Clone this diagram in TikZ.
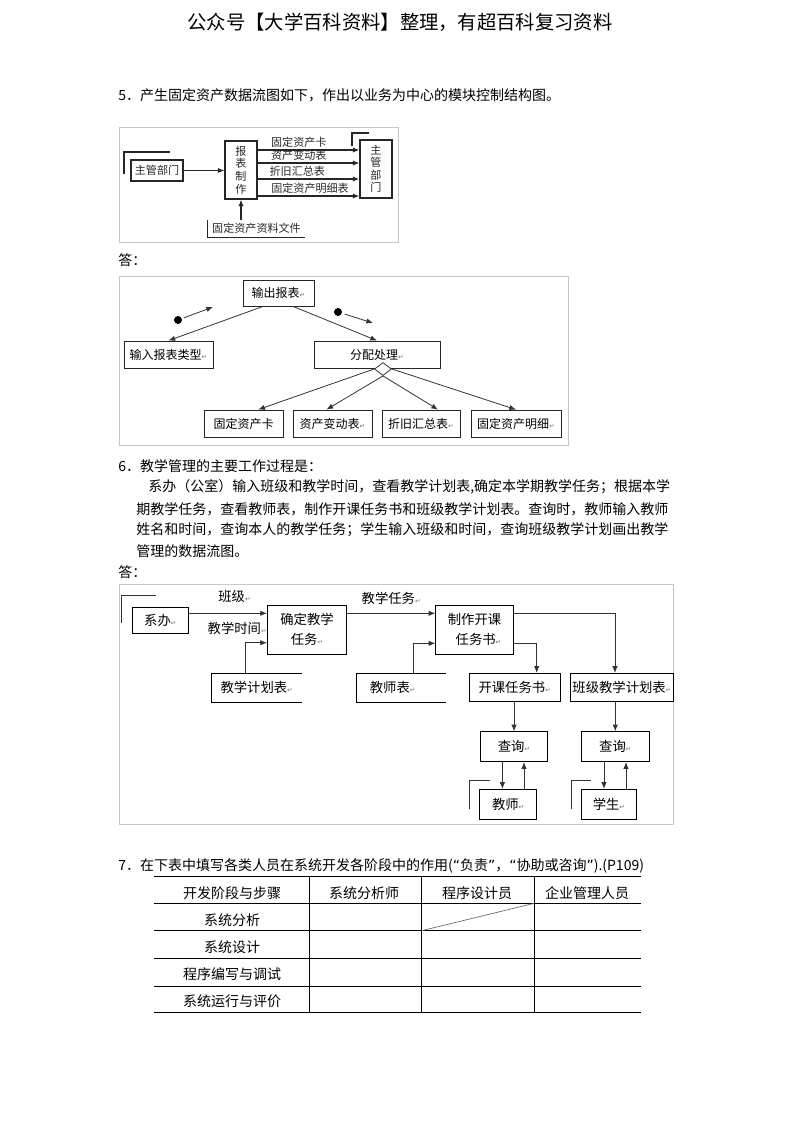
\documentclass[tikz,border=0pt]{standalone}
\usepackage{fontspec}
\setmainfont{Noto Sans CJK SC}
\newfontfamily\symf{DejaVu Sans}
\usetikzlibrary{arrows.meta,shapes.geometric}

\newcommand\rt{{\symf\fontsize{5}{5}\selectfont\textcolor{black!55}{↵}}}
\newcommand\oq{{\symf “}}
\newcommand\cq{{\symf ”}}

\tikzset{
  arr/.style={-{Latex[length=5pt,width=4pt]}},
  frm/.style={draw=black!22,line width=0.6pt},
  ln/.style={draw=black!80,line width=0.6pt},
  sline/.style={draw=black!85,line width=0.85pt},
  scnfont/.style={font=\fontsize{8.3}{9.4}\selectfont,text=black!85},
  scn/.style={draw=black!85,line width=0.85pt,inner sep=0pt,align=center,scnfont},
  boxb/.style={draw=black!85,line width=0.6pt,inner sep=0pt,align=center,font=\fontsize{9}{11}\selectfont},
  boxc/.style={draw=black,line width=0.6pt,inner sep=0pt,align=center,font=\fontsize{10}{15.5}\selectfont},
  storec/.style={inner sep=0pt,minimum height=21.3pt,font=\fontsize{10}{12}\selectfont},
  lblc/.style={inner sep=0pt,font=\fontsize{10}{12}\selectfont},
  dmd/.style={diamond,draw=black!80,fill=white,line width=0.6pt,inner sep=0pt,minimum width=12.75pt,minimum height=9.75pt},
  dot/.style={circle,fill=black,inner sep=0pt,minimum size=6pt},
  txt/.style={inner sep=0pt,anchor=west,font=\fontsize{10.5}{12}\selectfont},
  cell/.style={inner sep=0pt,font=\fontsize{10.5}{12}\selectfont},
}

\begin{document}
\begin{tikzpicture}[x=0.75pt,y=-0.75pt]
  \useasboundingbox (0,0) rectangle (793,1122);
  % page text
  \node[inner sep=0pt,font=\fontsize{14.5}{16}\selectfont] (hdr) at (400,22) {公众号【大学百科资料】整理，有超百科复习资料};
  \node[txt] (q5) at (118,95) {5．产生固定资产数据流图如下，作出以业务为中心的模块控制结构图。};

  % data flow diagram (scanned)
  \draw[frm] (119,127) rectangle (398,242);
  \node[scn,minimum width=39pt,minimum height=15.75pt] (zgA) at (157,170.5) {主管部门};
  \draw[sline] (124,174) -- (124,152) -- (170,152);
  \node[scn,minimum width=24pt,minimum height=43.5pt] (bbzz) at (241,170) {报\\表\\制\\作};
  \node[scn,minimum width=24pt,minimum height=43.5pt] (zgB) at (376,169) {主\\管\\部\\门};
  \draw[sline] (352,146) -- (352,133) -- (369,133);
  \node[inner sep=0pt,scnfont,minimum width=72.75pt,minimum height=12.75pt] (wj) at (256.5,228.5) {固定资产资料文件};
  \draw[sline] (wj.north west) -- (wj.south west) -- (wj.south east);
  \draw[sline,arr] (zgA.east) -- (zgA.east -| bbzz.west);
  \draw[sline,arr] (wj.north -| bbzz.south) -- (bbzz.south);
  \draw[sline,arr] (bbzz.east |- 0,150) -- (zgB.west |- 0,150)
     node[pos=0,anchor=south west,xshift=9.75pt,yshift=1.2pt,inner sep=0pt,scnfont] {固定资产卡};
  \draw[sline,arr] (bbzz.east |- 0,163) -- (zgB.west |- 0,163)
     node[pos=0,anchor=south west,xshift=9.75pt,yshift=1.2pt,inner sep=0pt,scnfont] {资产变动表};
  \draw[sline,arr,line width=1.1pt] (bbzz.east |- 0,179) -- (zgB.west |- 0,179)
     node[pos=0,anchor=south west,xshift=8.5pt,yshift=1.2pt,inner sep=0pt,scnfont] {折旧汇总表};
  \draw[sline,arr,line width=1.1pt] (bbzz.east |- 0,196) -- (zgB.west |- 0,196)
     node[pos=0,anchor=south west,xshift=9.75pt,yshift=1.2pt,inner sep=0pt,scnfont] {固定资产明细表};

  \node[txt] (ans1) at (118,260) {答：};

  % module control structure
  \draw[frm] (119,276) rectangle (568,445);
  \node[boxb,minimum width=53.25pt,minimum height=19.5pt] (scbb) at (278.5,293) {输出报表\rt};
  \node[boxb,minimum width=66.75pt,minimum height=20.25pt] (srlx) at (168.5,354.5) {输入报表类型\rt};
  \node[boxb,minimum width=94.5pt,minimum height=20.25pt] (fpcl) at (377,354.5) {分配处理\rt};
  \node[boxb,minimum width=59.25pt,minimum height=20.25pt] (gdzck) at (243.5,423.5) {固定资产卡};
  \node[boxb,minimum width=59.25pt,minimum height=20.25pt] (zcbdb) at (332.5,423.5) {资产变动表\rt};
  \node[boxb,minimum width=58.5pt,minimum height=20.25pt] (zjhzb) at (421,423.5) {折旧汇总表\rt};
  \node[boxb,minimum width=67.5pt,minimum height=20.25pt] (gdzcmx) at (516,423.5) {固定资产明细\rt};
  \draw[ln,arr] ([xshift=-11.6pt]scbb.south) -- (srlx.north);
  \draw[ln,arr] ([xshift=10.9pt]scbb.south) -- (fpcl.north);
  \node[dmd] (fork) at (383,369) {};
  \draw[ln,arr] (fork.west) -- ([xshift=11pt]gdzck.north);
  \draw[ln,arr] (fork.south) -- ([xshift=-4.5pt]zcbdb.north);
  \draw[ln,arr] (fork.south) -- ([xshift=12.75pt]zjhzb.north);
  \draw[ln,arr] (fork.east) -- (gdzcmx.north);
  \node[dot] (dA) at (178,320) {};
  \coordinate (dAend) at (213,307);
  \draw[ln,arr,shorten <=1.5pt] (dA) -- (dAend);
  \node[dot] (dB) at (338,312) {};
  \coordinate (dBend) at (373,323);
  \draw[ln,arr,shorten <=2pt] (dB) -- (dBend);

  % question 6
  \node[txt] (q6) at (118,466) {6．教学管理的主要工作过程是：};
  \node[txt] (p1) at (148,487) {系办（公室）输入班级和教学时间，查看教学计划表,确定本学期教学任务；根据本学};
  \node[txt] (p2) at (136,509) {期教学任务，查看教师表，制作开课任务书和班级教学计划表。查询时，教师输入教师};
  \node[txt] (p3) at (136,530) {姓名和时间，查询本人的教学任务；学生输入班级和时间，查询班级教学计划画出教学};
  \node[txt] (p4) at (136,551) {管理的数据流图。};
  \node[txt] (ans2) at (118,572) {答：};

  % teaching data flow diagram
  \draw[frm] (119,584) rectangle (673,824);
  \node[boxc,minimum width=42pt,minimum height=19.5pt] (xb) at (160.3,620.3) {系办\rt};
  \draw[ln] (121.7,623) -- (121.7,595) -- (155.7,595);
  \node[boxc,minimum width=59.5pt,minimum height=36.75pt] (qd) at (307,629.5) {确定教学\\任务\rt};
  \node[boxc,minimum width=58.2pt,minimum height=36.75pt] (zz) at (474.5,629.5) {制作开课\\\hspace*{6pt}任务书\rt};
  \node[storec,minimum width=67.5pt] (jxjh) at (256.7,687.5) {教学计划表\rt};
  \draw[line width=0.6pt] (jxjh.north east) -- (jxjh.north west) -- (jxjh.south west) -- (jxjh.south east);
  \node[storec,minimum width=67pt] (jsb) at (401.3,687.5) {\hspace*{-13pt}教师表\rt};
  \draw[line width=0.6pt] (jsb.north east) -- (jsb.north west) -- (jsb.south west) -- (jsb.south east);
  \node[boxc,minimum width=68pt,minimum height=21.3pt] (kkrws) at (514.7,687.5) {开课任务书\rt};
  \node[boxc,minimum width=76.7pt,minimum height=21.3pt] (bjjh) at (621.9,687.5) {班级教学计划表\rt};
  \node[boxc,minimum width=50.8pt,minimum height=22.5pt] (cxA) at (514,746.7) {查询\rt};
  \node[boxc,minimum width=50.5pt,minimum height=22.5pt] (cxB) at (615.3,746.7) {查询\rt};
  \node[boxc,minimum width=42.7pt,minimum height=22.5pt] (js) at (508.2,804.3) {教师\rt};
  \draw[ln] (469.2,809.3) -- (469.2,780.7) -- (489.8,780.7);
  \node[boxc,minimum width=40.7pt,minimum height=22.5pt] (xs) at (608.9,804.3) {学生\rt};
  \draw[ln] (570.9,809.3) -- (570.9,780.7) -- (590.7,780.7);

  \draw[ln,arr] ([yshift=5.25pt]xb.east) -- ([yshift=5.25pt]xb.east -| qd.west)
     node[midway,yshift=12.3pt,lblc,xshift=5pt] {班级\rt};
  \node[lblc,anchor=east] (jxsj) at (qd.west |- 0,628.3) {教学时间\rt};
  \draw[ln,arr] ([xshift=-8.8pt]jxjh.north) |- ([yshift=-9.9pt]qd.west);
  \draw[ln,arr] ([yshift=12.15pt]qd.east) -- ([yshift=12.15pt]zz.west)
     node[midway,yshift=11.5pt,lblc] {教学任务\rt};
  \draw[ln,arr] ([xshift=9pt]jsb.north) |- ([yshift=-10.35pt]zz.west);
  \draw[ln,arr] ([yshift=-10.35pt]zz.east) -| ([xshift=16.5pt]kkrws.north);
  \draw[ln,arr] ([yshift=12.15pt]zz.east) -| ([xshift=-5.2pt]bjjh.north);
  \draw[ln,arr] (kkrws.south -| cxA.north) -- (cxA.north);
  \draw[ln,arr] (cxB.north |- bjjh.south) -- (cxB.north);
  \draw[ln,arr] ([xshift=-8.7pt]cxA.south) -- ([xshift=-8.7pt]cxA.south |- js.north);
  \draw[ln,arr] ([xshift=7.5pt]cxA.south |- js.north) -- ([xshift=7.5pt]cxA.south);
  \draw[ln,arr] ([xshift=-8.5pt]cxB.south) -- ([xshift=-8.5pt]cxB.south |- xs.north);
  \draw[ln,arr] ([xshift=8pt]cxB.south |- xs.north) -- ([xshift=8pt]cxB.south);

  % question 7 and its table
  \node[txt] (q7) at (118,866) {7．在下表中填写各类人员在系统开发各阶段中的作用(\oq 负责\cq，\oq 协助或咨询\cq).(P109)};
  \draw[line width=0.75pt] (153.9,876) -- (641,876);
  \draw[line width=0.75pt] (153.9,903.3) -- (641,903.3);
  \draw[line width=0.75pt] (153.9,930.7) -- (641,930.7);
  \draw[line width=0.75pt] (153.9,958.3) -- (641,958.3);
  \draw[line width=0.75pt] (153.9,986) -- (641,986);
  \draw[line width=0.75pt] (153.9,1012.7) -- (641,1012.7);
  \draw[line width=0.75pt] (309.3,876) -- (309.3,1012.7);
  \draw[line width=0.75pt] (421.6,876) -- (421.6,1012.7);
  \draw[line width=0.75pt] (534.2,876) -- (534.2,1012.7);
  \draw[draw=black!60,line width=0.5pt] (421.6,930.7) -- (534.2,903.3);
  \node[cell] (hA) at (232,893.5) {开发阶段与步骤};
  \node[cell] (hB) at (364,893.5) {系统分析师};
  \node[cell] (hC) at (477,893.5) {程序设计员};
  \node[cell] (hD) at (587,893.5) {企业管理人员};
  \node[cell] (rA) at (232,920.5) {系统分析};
  \node[cell] (rB) at (232,947.5) {系统设计};
  \node[cell] (rC) at (232,974.5) {程序编写与调试};
  \node[cell] (rD) at (232,1001.5) {系统运行与评价};
\end{tikzpicture}
\end{document}
